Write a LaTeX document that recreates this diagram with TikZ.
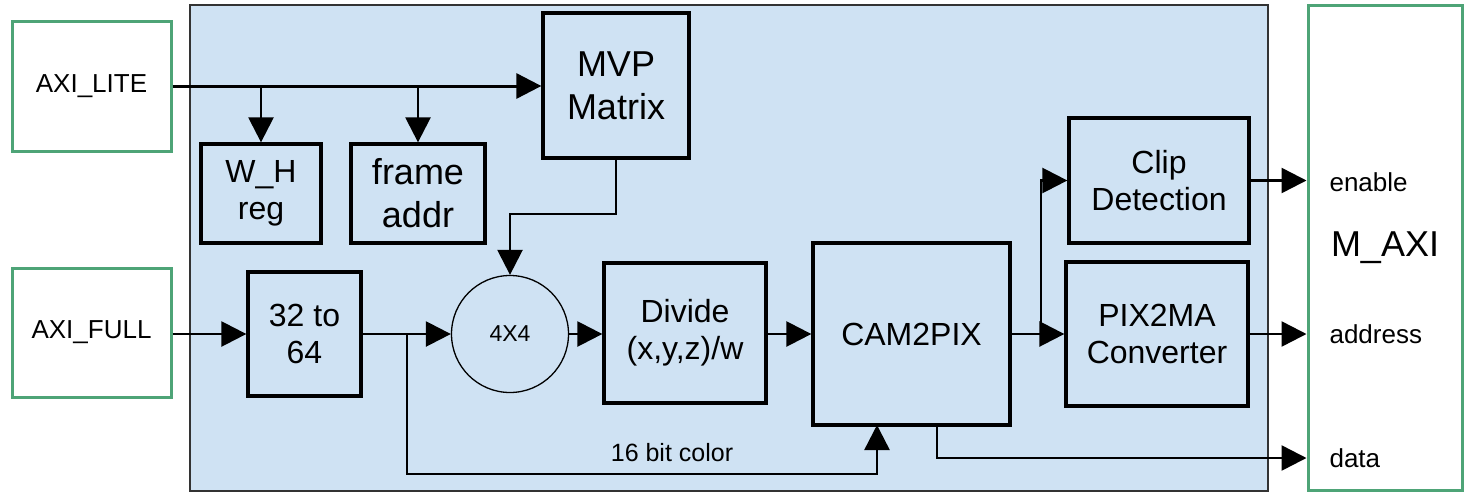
\documentclass[tikz,border=0pt]{standalone}
\usepackage{fontspec}
\setmainfont{Liberation Sans}
\usetikzlibrary{arrows.meta}
\definecolor{bluefill}{HTML}{CFE2F3}
\definecolor{greenline}{HTML}{4EA477}
\tikzset{
  blk/.style={draw=black, line width=3.3pt, fill=bluefill, rectangle, align=center, inner sep=0pt},
  port/.style={draw=greenline, line width=3pt, fill=white, rectangle, align=center, inner sep=0pt},
  conn/.style={line width=2.5pt, -{Triangle[length=25pt,width=25pt]}},
  fbig/.style={font=\fontsize{36}{43}\selectfont},
  fmid/.style={font=\fontsize{32}{37}\selectfont},
  fsml/.style={font=\fontsize{26}{31}\selectfont},
}
\begin{document}
\begin{tikzpicture}[x=1pt,y=-1pt]
\useasboundingbox (0,0) rectangle (1464,493);
% main blue block
\draw[draw=black!80, line width=1.5pt, fill=bluefill] (190,5) rectangle (1268,491);
% ports
\node[port, fsml, minimum width=159pt, minimum height=130pt] (lite) at (91.5,86) {AXI\_LITE};
\node[port, fsml, minimum width=159pt, minimum height=129pt] (full) at (91.5,332.5) {AXI\_FULL};
\node[port, fbig, minimum width=154pt, minimum height=485pt] (maxi) at (1385,247.5) {M\_AXI};
% blocks
\node[blk, fbig, minimum width=146pt, minimum height=145pt] (mvp) at (616,85.5) {MVP\\Matrix};
\node[blk, fmid, minimum width=120pt, minimum height=99pt] (wh) at (261,193.5) {W\_H\\reg};
\node[blk, fbig, minimum width=134pt, minimum height=99pt] (frame) at (418,193.5) {frame\\addr};
\node[blk, fmid, minimum width=113pt, minimum height=124pt] (cvt) at (304.5,334) {32 to\\64};
\node[circle, draw=black, line width=1.3pt, fill=bluefill, minimum size=117pt, inner sep=0pt, font=\fontsize{23}{27}\selectfont] (circ) at (510,334) {4X4};
\node[blk, fmid, minimum width=162pt, minimum height=140pt] (div) at (685,333) {Divide\\(x,y,z)/w};
\node[blk, fmid, minimum width=197pt, minimum height=182pt] (cam) at (911.5,334) {CAM2PIX};
\node[blk, fmid, minimum width=180pt, minimum height=125pt] (clip) at (1159,180.5) {Clip\\Detection};
\node[blk, fmid, minimum width=182pt, minimum height=144pt] (pix) at (1157,334) {PIX2MA\\Converter};
% helper coordinates
\coordinate (kink) at (510,214);
\coordinate (br) at (407,474);
\coordinate (camin) at (877,425);
\coordinate (dataout) at (937,458);
\coordinate (split) at (1041,334);
% AXI_LITE bus
\draw[conn, line width=3pt] (lite.east) -- (lite.east -| mvp.west);
\draw[conn] (lite.east -| wh.north) -- (wh.north);
\draw[conn] (lite.east -| frame.north) -- (frame.north);
% MVP to 4x4
\draw[conn] (mvp.south) -- (mvp.south |- kink) -- (kink) -- (circ.north);
% AXI_FULL path
\draw[conn] (full.east |- cvt.west) -- (cvt.west);
\draw[conn] (cvt.east) -- (circ.west);
\draw[conn] (circ.east) -- (circ.east -| div.west);
\draw[conn] (div.east |- cam.west) -- (cam.west);
% 16 bit color
\draw[conn] (br |- cvt.east) -- (br) -- (br -| camin) -- (camin);
\node[font=\fontsize{25}{30}\selectfont] (col) at (672,453) {16 bit color};
% CAM2PIX outputs
\draw[conn] (cam.east) -- (pix.west);
\draw[conn] (split) -- (split |- clip.west) -- (clip.west);
\draw[conn] (camin -| dataout) -- (dataout) -- (dataout -| maxi.west);
% outputs to M_AXI
\draw[conn] (clip.east) -- (clip.east -| maxi.west);
\draw[conn] (pix.east) -- (pix.east -| maxi.west);
\node[fsml, anchor=west] (en) at (1326,182) {enable};
\node[fsml, anchor=west] (ad) at (1326,334) {address};
\node[fsml, anchor=west] (da) at (1326,458) {data};
\end{tikzpicture}
\end{document}
